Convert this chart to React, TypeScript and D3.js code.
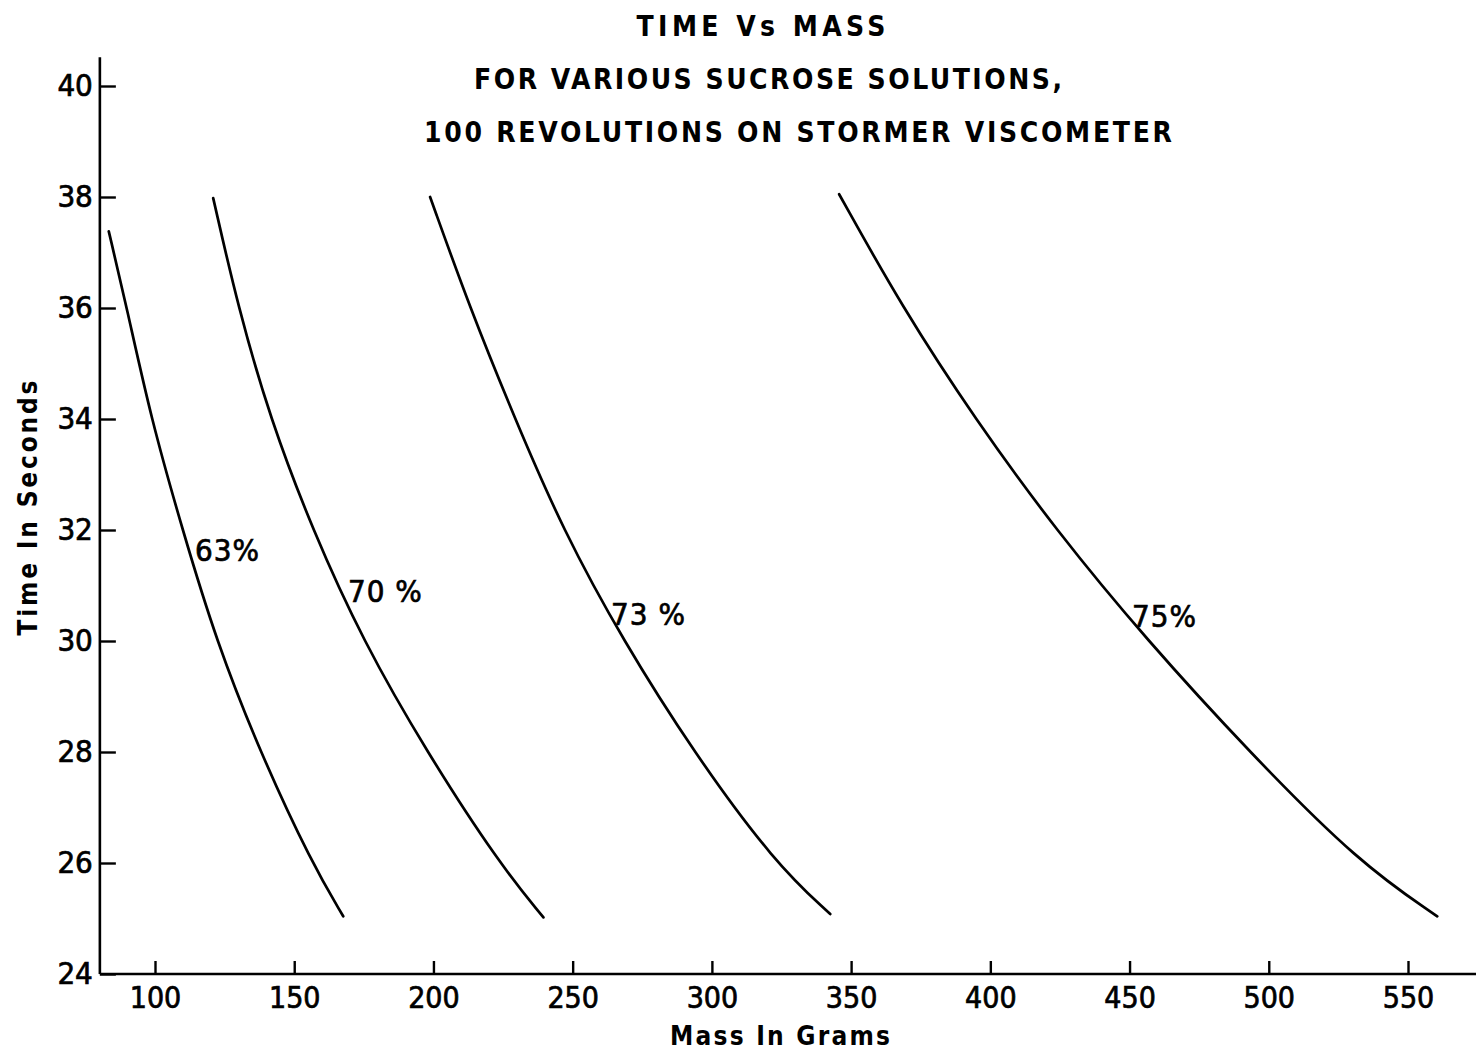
import React, { useEffect, useRef } from "react";
import * as d3 from "d3";

const titleLines = [
  "TIME Vs MASS",
  "FOR VARIOUS SUCROSE SOLUTIONS,",
  "100 REVOLUTIONS ON STORMER VISCOMETER",
];
const xLabel = "Mass In Grams";
const yLabel = "Time In Seconds";

const xTicks = [100, 150, 200, 250, 300, 350, 400, 450, 500, 550];
const yTicks = [24, 26, 28, 30, 32, 34, 36, 38, 40];

const seriesNames = ["63%", "70 %", "73 %", "75%"];

const mass63 = [83.4, 89.9, 98.6, 109.9, 122.0, 137.7, 156.3, 167.6];
const time63 = [37.38, 36, 34, 32, 30, 28, 26, 25.04];

const mass70 = [120.9, 129.9, 141.4, 156.6, 174.7, 197.6, 223.5, 239.5];
const time70 = [37.98, 36, 34, 32, 30, 28, 26, 25.02];

const mass73 = [198.8, 213.1, 229.3, 246.5, 268.2, 293.4, 322.6, 342.5];
const time73 = [38.0, 36, 34, 32, 30, 28, 26, 25.08];

const mass75 = [345.7, 368.5, 394.5, 423.5, 456.5, 493.0, 532.5, 560.5];
const time75 = [38.05, 36, 34, 32, 30, 28, 26, 25.04];

const labelMass = [114.4, 169.3, 263.8, 450.9];
const labelTime = [31.44, 30.7, 30.28, 30.25];

const FONT = "'DejaVu Sans Condensed', 'Liberation Sans Narrow', 'DejaVu Sans', sans-serif";

export default function App() {
  const ref = useRef<SVGSVGElement | null>(null);

  useEffect(() => {
    const svg = d3.select(ref.current);
    svg.selectAll("*").remove();

    const x = d3.scaleLinear().domain([100, 550]).range([155, 1408]);
    const y = d3.scaleLinear().domain([24, 40]).range([974, 86]);

    const g = svg.append("g");

    // axis lines
    g.append("line")
      .attr("x1", x(80.2)).attr("x2", 1476)
      .attr("y1", y(24)).attr("y2", y(24))
      .attr("stroke", "#000").attr("stroke-width", 2.6);
    g.append("line")
      .attr("x1", x(80.2)).attr("x2", x(80.2))
      .attr("y1", y(40.52)).attr("y2", y(24))
      .attr("stroke", "#000").attr("stroke-width", 2.6);

    const xAxis = d3.axisBottom(x).tickValues(xTicks).tickSize(-13).tickPadding(13).tickFormat(d3.format("d"));
    const xg = g.append("g").attr("transform", `translate(0,${y(24)})`).call(xAxis);
    xg.select(".domain").remove();
    xg.selectAll("line").attr("stroke", "#000").attr("stroke-width", 2.4);
    xg.selectAll("text")
      .attr("font-family", FONT).attr("font-size", 30).attr("fill", "#000")
      .attr("stroke", "#000").attr("stroke-width", 0.7);

    const yAxis = d3.axisLeft(y).tickValues(yTicks).tickSize(-16).tickPadding(7).tickFormat(d3.format("d"));
    const yg = g.append("g").attr("transform", `translate(${x(80.2)},0)`).call(yAxis);
    yg.select(".domain").remove();
    yg.selectAll("line").attr("stroke", "#000").attr("stroke-width", 2.4);
    yg.selectAll("text")
      .attr("font-family", FONT).attr("font-size", 31).attr("fill", "#000")
      .attr("stroke", "#000").attr("stroke-width", 0.7);

    const line = d3.line<[number, number]>()
      .x((d) => x(d[0]))
      .y((d) => y(d[1]))
      .curve(d3.curveBasis);

    const series = [
      [mass63, time63],
      [mass70, time70],
      [mass73, time73],
      [mass75, time75],
    ];
    series.forEach(([m, t]) => {
      const pts = m.map((v, i) => [v, t[i]] as [number, number]);
      g.append("path")
        .attr("d", line(pts))
        .attr("fill", "none")
        .attr("stroke", "#000")
        .attr("stroke-width", 2.7)
        .attr("stroke-linecap", "round");
    });

    seriesNames.forEach((name, i) => {
      g.append("text")
        .attr("x", x(labelMass[i]))
        .attr("y", y(labelTime[i]))
        .attr("font-family", FONT)
        .attr("font-size", 31)
        .attr("fill", "#000")
        .attr("stroke", "#000").attr("stroke-width", 0.7)
        .attr("letter-spacing", 1)
        .text(name);
    });

    // title
    const titleY = [36, 89, 142];
    const titleX = [761, 768, 798];
    const titleW = [249, 588, 748];
    titleLines.forEach((tline, i) => {
      g.append("text")
        .attr("x", titleX[i])
        .attr("y", titleY[i])
        .attr("text-anchor", "middle")
        .attr("font-family", FONT)
        .attr("font-weight", "bold")
        .attr("font-size", 28)
        .attr("fill", "#000")
        .attr("textLength", titleW[i])
        .attr("lengthAdjust", "spacing")
        .text(tline);
    });

    g.append("text")
      .attr("x", 780)
      .attr("y", 1045)
      .attr("text-anchor", "middle")
      .attr("font-family", FONT)
      .attr("font-weight", "bold")
      .attr("font-size", 26)
      .attr("textLength", 220)
      .attr("lengthAdjust", "spacing")
      .attr("fill", "#000")
      .text(xLabel);

    g.append("text")
      .attr("transform", `translate(37,508) rotate(-90)`)
      .attr("text-anchor", "middle")
      .attr("font-family", FONT)
      .attr("font-weight", "bold")
      .attr("font-size", 26)
      .attr("textLength", 255)
      .attr("lengthAdjust", "spacing")
      .attr("fill", "#000")
      .text(yLabel);
  }, []);

  return (
    <svg
      ref={ref}
      width={1476}
      height={1051}
      style={{ position: "absolute", left: 0, top: 0, background: "#fff" }}
    />
  );
}
